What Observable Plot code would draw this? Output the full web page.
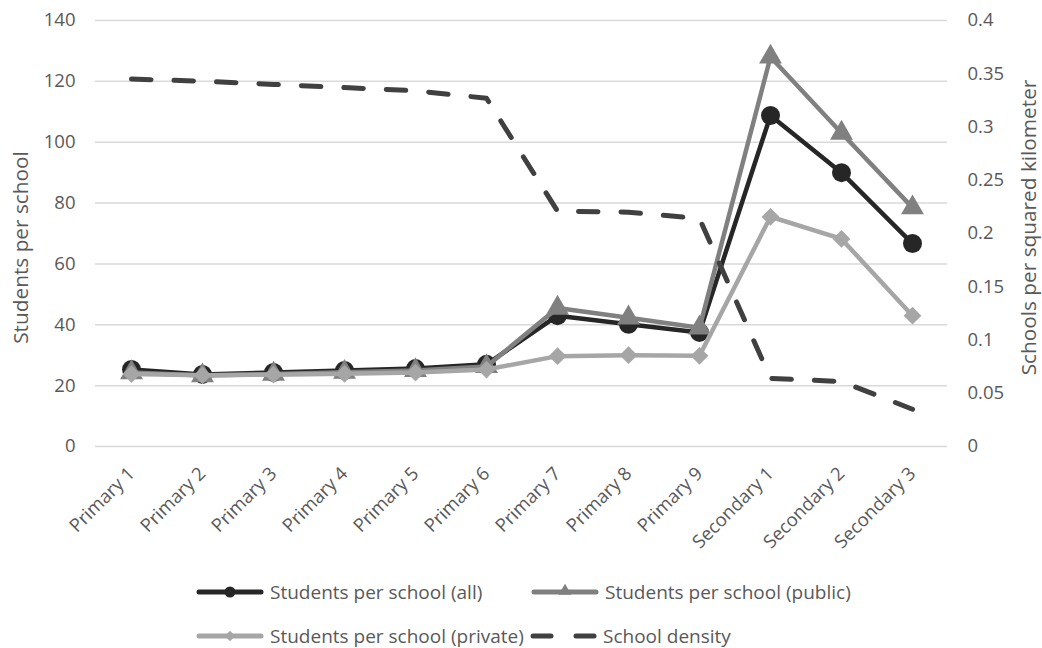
<!DOCTYPE html>
<html>
<head>
<meta charset="utf-8">
<script src="https://cdn.jsdelivr.net/npm/d3@7"></script>
<script src="https://cdn.jsdelivr.net/npm/@observablehq/plot@0.6"></script>
<style>
  body { margin: 0; background: #fff; font-family: "Open Sans", sans-serif; }
  #wrap { width: 1042px; height: 648px; position: relative; overflow: hidden; }
  #legend { position: absolute; left: 0; top: 570px; width: 1042px; height: 78px; }
  .item { position: absolute; display: flex; align-items: center; height: 24px; color: #595959; font-size: 19px; white-space: nowrap; }
  .item svg { display: block; margin-right: 5px; }
</style>
</head>
<body>
<div id="wrap">
  <div id="chart"></div>
  <div id="legend"></div>
</div>
<script>
const categories = ["Primary 1","Primary 2","Primary 3","Primary 4","Primary 5","Primary 6","Primary 7","Primary 8","Primary 9","Secondary 1","Secondary 2","Secondary 3"];
const studentsAll     = [25.3, 23.7, 24.3, 25.0, 25.6, 27.0, 43.0, 40.2, 37.5, 108.8, 90.0, 66.7];
const studentsPublic  = [24.3, 23.3, 23.8, 24.4, 25.0, 26.3, 45.5, 42.3, 39.0, 128.0, 103.0, 78.5];
const studentsPrivate = [23.8, 23.4, 23.6, 23.9, 24.3, 25.3, 29.7, 30.0, 29.8, 75.5, 68.2, 43.0];
const schoolDensity   = [0.345, 0.343, 0.340, 0.337, 0.334, 0.327, 0.221, 0.220, 0.214, 0.064, 0.061, 0.035];
const leftTicks  = [0, 20, 40, 60, 80, 100, 120, 140];
const rightTicks = [0, 0.05, 0.1, 0.15, 0.2, 0.25, 0.3, 0.35, 0.4];

const leftMax = 140, rightMax = 0.4, k = leftMax / rightMax;
const table = categories.map((c, i) => ({
  category: c, all: studentsAll[i], pub: studentsPublic[i], priv: studentsPrivate[i], density: schoolDensity[i]
}));

const cAll = "#262626", cPub = "#808080", cPriv = "#a6a6a6", cDen = "#404040";

const chart = Plot.plot({
  width: 1042, height: 570,
  marginLeft: 95, marginRight: 95, marginTop: 20, marginBottom: 124,
  x: { type: "point", domain: categories, padding: 0.5 },
  y: { domain: [0, leftMax] },
  style: { fontFamily: "'Open Sans', sans-serif", fontSize: "18.5px", color: "#595959", background: "#fff" },
  marks: [
    Plot.gridY(leftTicks, { stroke: "#d9d9d9", strokeOpacity: 1, strokeWidth: 1.5 }),
    Plot.axisY(leftTicks, { tickSize: 0, tickPadding: 20, label: null }),
    Plot.axisY(rightTicks.map(d => d * k), { anchor: "right", tickSize: 0, tickPadding: 20, label: null,
      tickFormat: d => String(+(d / k).toFixed(2)) }),
    Plot.axisX({ tickSize: 0, tickRotate: -45, tickPadding: 24, label: null }),
    Plot.text(["Students per school"], { frameAnchor: "left", textAnchor: "middle", dx: -74, dy: 14, rotate: -90, fill: "#595959", fontSize: 20.8 }),
    Plot.text(["Schools per squared kilometer"], { frameAnchor: "right", textAnchor: "middle", dx: 82, dy: -6, rotate: -90, fill: "#595959", fontSize: 20.8 }),
    Plot.line(table, { x: "category", y: "all", stroke: cAll, strokeWidth: 4.5 }),
    Plot.dot(table, { x: "category", y: "all", symbol: "circle", r: 9.5, fill: cAll }),
    Plot.line(table, { x: "category", y: "pub", stroke: cPub, strokeWidth: 4.5 }),
    Plot.dot(table, { x: "category", y: "pub", symbol: "triangle", r: 8.5, fill: cPub }),
    Plot.line(table, { x: "category", y: "priv", stroke: cPriv, strokeWidth: 4.5 }),
    Plot.dot(table, { x: "category", y: "priv", symbol: "diamond2", r: 8, fill: cPriv }),
    Plot.line(table, { x: "category", y: d => d.density * k, stroke: cDen, strokeWidth: 5,
      strokeDasharray: "19.5,23", strokeLinecap: "round" })
  ]
});
document.getElementById("chart").appendChild(chart);

// Legend
const legendItems = [
  { label: "Students per school (all)", color: cAll, symbol: "circle", left: 195, top: 10 },
  { label: "Students per school (public)", color: cPub, symbol: "triangle", left: 530, top: 10 },
  { label: "Students per school (private)", color: cPriv, symbol: "diamond", left: 195, top: 54 },
  { label: "School density", color: cDen, symbol: "dash", left: 528, top: 54 }
];
const legend = document.getElementById("legend");
for (const it of legendItems) {
  const div = document.createElement("div");
  div.className = "item";
  div.style.left = it.left + "px";
  div.style.top = it.top + "px";
  const ns = "http://www.w3.org/2000/svg";
  const svg = document.createElementNS(ns, "svg");
  svg.setAttribute("width", 70); svg.setAttribute("height", 24);
  if (it.symbol === "dash") {
    for (const [x1, x2] of [[5, 23], [48, 66]]) {
      const l = document.createElementNS(ns, "line");
      l.setAttribute("x1", x1); l.setAttribute("x2", x2); l.setAttribute("y1", 12); l.setAttribute("y2", 12);
      l.setAttribute("stroke", it.color); l.setAttribute("stroke-width", 5); l.setAttribute("stroke-linecap", "round");
      svg.appendChild(l);
    }
  } else {
    const l = document.createElementNS(ns, "line");
    l.setAttribute("x1", 4); l.setAttribute("x2", 66); l.setAttribute("y1", 12); l.setAttribute("y2", 12);
    l.setAttribute("stroke", it.color); l.setAttribute("stroke-width", 5); l.setAttribute("stroke-linecap", "round");
    svg.appendChild(l);
    const p = document.createElementNS(ns, "path");
    const sym = it.symbol === "circle" ? d3.symbolCircle : it.symbol === "triangle" ? d3.symbolTriangle : d3.symbolSquare;
    const size = it.symbol === "circle" ? 95 : it.symbol === "triangle" ? 70 : 55;
    p.setAttribute("d", d3.symbol(sym, size)());
    p.setAttribute("transform", `translate(35,${it.symbol === "triangle" ? 11 : 12})` + (it.symbol === "diamond" ? " rotate(45)" : ""));
    p.setAttribute("fill", it.color);
    svg.appendChild(p);
  }
  div.appendChild(svg);
  const span = document.createElement("span");
  span.textContent = it.label;
  div.appendChild(span);
  legend.appendChild(div);
}
</script>
</body>
</html>
